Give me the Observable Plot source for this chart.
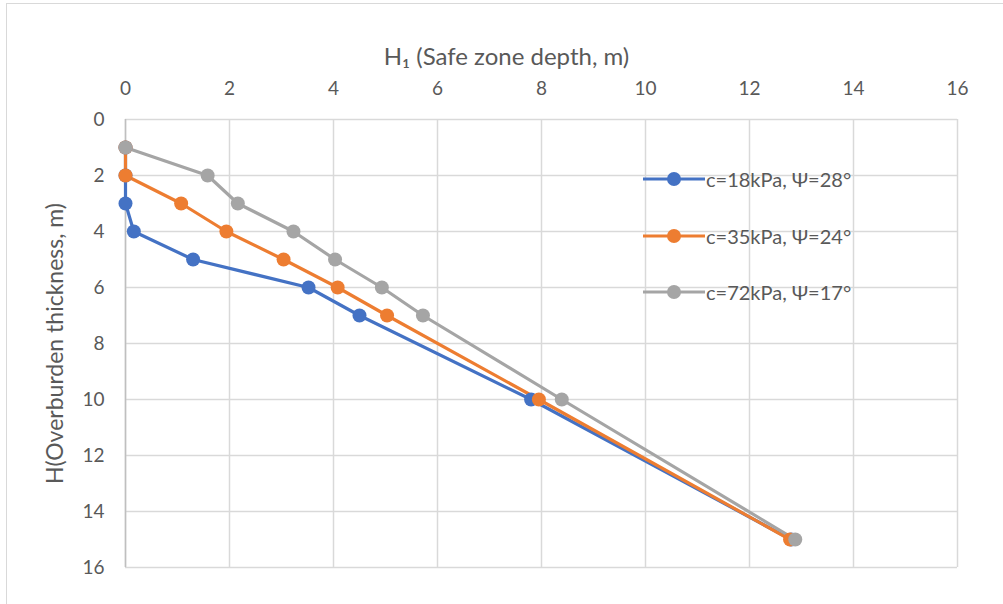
<!DOCTYPE html>
<html>
<head>
<meta charset="utf-8">
<script src="https://cdn.jsdelivr.net/npm/d3@7"></script>
<script src="https://cdn.jsdelivr.net/npm/@observablehq/plot@0.6"></script>
<style>
  html, body { margin: 0; padding: 0; background: #fff; }
  #wrap { position: relative; width: 1003px; height: 604px; overflow: hidden; font-family: Lato, "Open Sans", sans-serif; }
  #border { position: absolute; left: 6px; top: 3px; width: 1010px; height: 620px; border: 1px solid #d9d9d9; box-sizing: border-box; }
  #legend { position: absolute; left: 643px; top: 165px; color: #595959; font-size: 20px; }
  .item { display: flex; align-items: center; height: 28px; margin-bottom: 28.5px; }
  .item svg { margin-right: 1px; }
</style>
</head>
<body>
<div id="wrap">
  <div id="border"></div>
  <div id="chart"></div>
  <div id="legend"></div>
</div>
<script>
// Series data (H1 safe zone depth vs H overburden thickness)
const seriesNames = ["c=18kPa, Ψ=28°", "c=35kPa, Ψ=24°", "c=72kPa, Ψ=17°"];
const seriesColors = ["#4472c4", "#ed7d31", "#a5a5a5"];
const thicknessH = [1, 2, 3, 4, 5, 6, 7, 10, 15];
const h1_c18 = [0, 0, 0, 0.16, 1.30, 3.52, 4.50, 7.80, 12.80];
const h1_c35 = [0, 0, 1.07, 1.94, 3.04, 4.08, 5.03, 7.95, 12.78];
const h1_c72 = [0, 1.58, 2.16, 3.23, 4.03, 4.93, 5.72, 8.39, 12.88];
const tickValues = [0, 2, 4, 6, 8, 10, 12, 14, 16];
const xLabel = "H\u2081 (Safe zone depth, m)";
const yLabel = "H(Overburden thickness, m)";

const seriesValues = [h1_c18, h1_c35, h1_c72];
const data = [];
seriesValues.forEach((vals, si) => {
  vals.forEach((v, i) => data.push({series: seriesNames[si], x: v, y: thicknessH[i]}));
});

const chart = Plot.plot({
  width: 1003,
  height: 604,
  marginLeft: 125,
  marginRight: 46,
  marginTop: 119,
  marginBottom: 37,
  style: {fontFamily: "Lato, 'Open Sans', sans-serif", color: "#595959", background: "transparent"},
  x: {domain: [0, 16], axis: null},
  y: {domain: [0, 16], reverse: true, axis: null},
  color: {domain: seriesNames, range: seriesColors},
  marks: [
    Plot.ruleX(tickValues, {stroke: "#d9d9d9", strokeWidth: 1.5}),
    Plot.ruleY(tickValues, {stroke: "#d9d9d9", strokeWidth: 1.5}),
    Plot.ruleX([0], {stroke: "#bfbfbf", strokeWidth: 1.5}),
    Plot.axisX(tickValues, {anchor: "top", tickSize: 0, tickPadding: 25, fill: "#595959", label: null}),
    Plot.text([xLabel], {frameAnchor: "top", dx: -35, dy: -72, fill: "#595959", fontSize: 24}),
    Plot.axisY(tickValues, {anchor: "left", tickSize: 0, tickPadding: 21, fill: "#595959",
      label: yLabel, labelAnchor: "center", labelArrow: "none", labelOffset: 79}),
    Plot.line(data, {x: "x", y: "y", z: "series", stroke: "series", strokeWidth: 3.2}),
    Plot.dot(data, {x: "x", y: "y", fill: "series", r: 7})
  ]
});
document.getElementById("chart").appendChild(chart);

// Excel-like text sizes
chart.querySelectorAll("text").forEach(t => {
  const s = t.textContent;
  if (s === xLabel) t.style.fontSize = "24px";
  else if (s === yLabel) t.style.fontSize = "23px";
  else t.style.fontSize = "19px";
});

const legend = document.getElementById("legend");
seriesNames.forEach((name, i) => {
  const item = document.createElement("div");
  item.className = "item";
  item.innerHTML = `<svg width="62" height="20"><line x1="0" y1="10" x2="62" y2="10" stroke="${seriesColors[i]}" stroke-width="3.2"/><circle cx="31" cy="10" r="7" fill="${seriesColors[i]}"/></svg><span>${name}</span>`;
  legend.appendChild(item);
});
</script>
</body>
</html>
